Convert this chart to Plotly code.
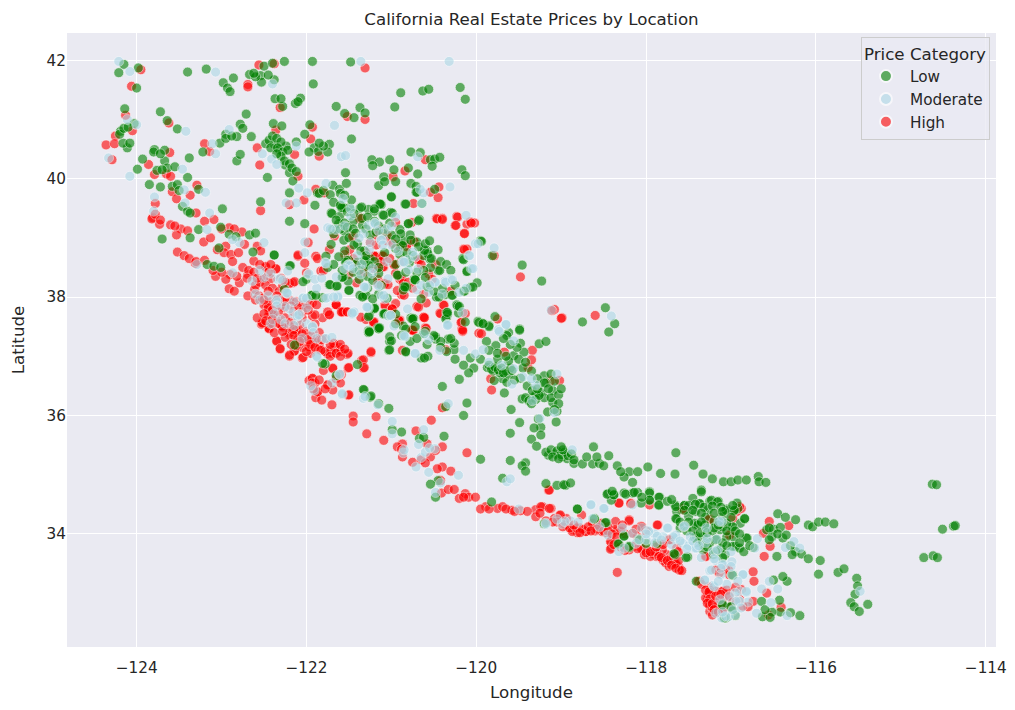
import plotly.graph_objects as go

low_points = [
(-124.21,41.79),(-124.15,41.93),(-123.98,41.87),(-124.0,41.53),(-123.40,41.80),(-123.18,41.85),(-122.98,41.62),(-122.93,41.53),(-122.90,41.47),(-122.86,41.70),
(-122.67,41.76),(-122.54,41.74),(-122.53,41.63),(-122.50,41.9),(-122.40,41.95),(-122.26,41.98),(-121.93,41.98),(-121.92,41.6),(-121.48,41.97),(-122.38,41.67),
(-122.37,41.35),(-122.28,41.22),(-122.13,41.27),(-122.07,41.36),(-121.65,41.22),(-121.55,41.1),(-121.44,41.03),(-121.37,41.2),(-121.31,41.11),(-124.14,41.18),
(-123.72,41.13),(-123.64,40.98),(-123.52,40.84),(-124.19,40.8),(-124.03,40.93),(-124.11,40.52),(-124.16,40.6),(-123.79,40.49),(-123.67,40.48),(-123.93,40.33),
(-123.67,40.3),(-123.99,40.16),(-123.76,40.14),(-123.64,40.18),(-123.4,40.02),(-123.38,40.35),(-123.22,40.45),(-123.02,40.6),(-122.95,40.75),(-122.82,40.71),
(-122.78,40.92),(-122.71,41.09),(-122.65,40.71),(-122.82,40.3),(-122.78,40.41),(-122.46,40.02),(-122.39,40.93),(-122.29,40.89),(-122.48,40.59),(-122.38,40.58),
(-122.32,40.49),(-122.24,40.55),(-122.25,40.23),(-122.2,40.1),(-122.16,39.96),(-122.2,39.76),(-122.02,40.75),(-121.96,40.91),(-121.91,40.52),(-121.86,40.46),
(-121.73,40.58),(-121.75,40.45),(-121.47,40.67),(-121.54,40.1),(-121.23,40.32),(-121.14,40.28),(-121.22,40.22),(-121.15,39.88),(-121.09,40.03),(-121.69,39.89),
(-121.61,39.82),(-121.53,39.92),(-121.87,39.76),(-122.54,39.61),(-122.2,39.28),(-122.02,39.24),(-122.99,39.49),(-123.46,39.53),(-123.4,39.45),(-123.37,39.42),
(-123.58,39.87),(-123.72,39.86),(-123.27,39.82),(-123.01,39.18),(-123.27,39.14),(-122.67,39.05),(-122.6,39.08),(-122.91,39.06),(-122.83,39.02),(-123.7,38.98),
(-123.37,39.0),(-123.03,38.83),(-122.63,38.76),(-122.38,38.71),(-123.17,38.55),(-123.09,38.52),(-123.01,38.5),(-122.2,38.53),(-121.71,38.89),(-121.77,38.69),
(-122.0,38.3),(-121.73,38.21),(-121.65,38.18),(-121.5,38.12),(-121.93,38.03),(-121.81,37.99),(-121.57,38.35),(-121.51,38.27),(-121.33,38.02),(-121.2,37.82),
(-121.27,37.43),(-121.16,37.48),(-121.59,39.51),(-121.49,39.51),(-121.37,39.5),(-121.27,39.48),(-121.2,39.45),(-121.12,39.56),(-121.1,39.39),(-121.71,39.42),
(-121.61,39.36),(-121.69,39.14),(-121.55,39.11),(-121.45,39.28),(-121.4,38.9),(-121.32,38.78),(-121.25,38.65),(-121.5,38.62),(-121.42,38.55),(-121.3,38.5),
(-121.2,38.6),(-121.08,38.75),(-121.15,38.4),(-121.38,38.3),(-121.28,38.15),(-121.15,38.05),(-121.05,37.98),(-120.89,41.45),(-120.63,41.48),(-120.56,41.51),
(-120.19,41.54),(-120.13,41.34),(-120.96,41.21),(-120.77,40.45),(-120.66,40.44),(-120.54,40.32),(-120.49,40.33),(-120.43,40.36),(-120.52,40.21),(-120.17,40.15),
(-120.13,40.05),(-121.02,40.32),(-120.97,40.15),(-120.8,40.18),(-120.69,40.08),(-120.95,39.95),(-121.08,39.95),(-120.77,39.92),(-120.71,39.87),(-120.71,39.77),
(-120.49,39.82),(-121,39.7),(-121.14,39.57),(-120.84,39.57),(-120.64,39.58),(-121.01,39.43),(-120.67,39.31),(-120.8,39.24),(-120.9,39.14),(-121.02,39.25),
(-120.7,38.93),(-120.89,38.89),(-120.58,38.78),(-120.55,38.65),(-120.16,38.65),(-120.11,38.44),(-120.45,38.45),(-120.54,38.5),(-119.95,38.95),(-119.81,38.7),
(-119.46,38.54),(-119.23,38.27),(-120.73,38.3),(-120.58,38.18),(-120.85,38.18),(-119.99,38.24),(-120.15,38.1),(-120.07,38.16),(-120.47,38),(-120.37,38.04),
(-120.29,38.03),(-120.65,37.97),(-120.23,37.87),(-120.21,37.73),(-120.35,37.74),(-120.35,37.65),(-120.77,37.65),(-121.09,37.72),(-120.86,37.51),(-120.13,37.58),
(-119.98,37.59),(-119.93,37.56),(-119.85,37.52),(-119.78,37.67),(-119.49,37.46),(-119.62,37.4),(-118.48,37.82),(-118.37,37.55),(-118.75,37.58),(-118.44,37.41),
(-120.9,38.72),(-120.78,38.65),(-120.95,38.55),(-120.62,38.7),(-120.85,38.95),(-120.78,39.05),(-120.62,38.45),(-120.7,38.42),(-120.6,38.33),
(-121.27,37.4),(-121.15,37.46),(-121.02,37.25),(-121.03,37.1),(-120.83,37.07),(-120.65,36.97),(-120.57,37),(-120.48,37.29),(-120.33,37.29),(-120.26,37.11),
(-120.26,37.22),(-120.34,37.71),(-120.22,37.85),(-121.2,37.8),(-121.09,37.71),(-120.95,37.71),(-120.76,37.63),(-120.83,37.46),(-120.62,37.38),(-119.97,37.57),
(-119.85,37.5),(-119.88,37.25),(-119.77,37.18),(-119.64,37.35),(-119.48,37.22),(-119.49,37.44),(-119.44,37.07),(-119.56,37.01),(-119.26,37.21),(-119.18,37.25),
(-120.07,36.97),(-120.03,36.8),(-120.09,36.72),(-120.2,36.61),(-120.4,36.49),(-120.36,36.15),(-120.11,36.21),(-120.15,36),(-119.87,36.81),(-119.75,36.79),
(-119.69,36.62),(-119.79,36.59),(-119.64,36.56),(-119.48,36.63),(-119.67,36.38),(-119.46,36.28),(-119.59,36.1),(-119.34,36.3),(-119.24,36.39),(-119.2,36.67),
(-119.12,36.7),(-119.1,36.42),(-119.1,36.22),(-119.05,36.07),(-119.16,36.06),(-119.06,35.89),(-119.27,35.94),(-119.24,35.8),(-119.32,35.79),(-119.49,35.88),
(-119.24,35.67),(-119.6,35.7),(-119.35,35.6),(-119.29,35.48),(-119.42,35.2),(-119.46,35.15),(-119.42,35.06),(-119.6,35.24),(-119.95,35.26),(-119.69,34.94),
(-119.07,35.35),(-119.15,35.33),(-118.99,35.3),(-118.93,35.27),(-119.18,34.85),(-119.05,34.82),(-118.95,34.82),(-120.99,35.76),(-120.88,35.72),(-120.67,35.61),
(-120.38,35.65),(-120.62,35.63),(-120.45,34.9),(-120.54,34.84),(-120.48,34.62),(-119.82,34.54),(-119.2,34.17),(-121.15,36.2),(-121.03,36.12),(-121.25,36.31),
(-121.32,36.43),(-121.78,36.87),(-121.65,36.67),(-121.4,36.86),(-119.8,36.75),(-119.72,36.72),(-119.62,36.7),(-119.55,36.6),(-119.4,36.5),(-119.3,36.35),
(-119.2,36.3),(-119.12,36.3),(-119.03,36.35),
(-118.85,35.19),(-118.62,35.47),(-118.44,35.32),(-118.63,35.18),(-118.55,35.19),(-118.34,35.15),(-118.2,35.05),(-117.98,35.13),(-117.83,35.02),(-117.66,35.01),
(-117.65,35.37),(-117.44,35.16),(-117.33,35.01),(-117.22,34.93),(-117.09,34.88),(-117,34.88),(-116.92,34.91),(-116.82,34.91),(-116.68,34.97),(-116.67,34.88),
(-116.59,34.87),(-118.97,34.83),(-118.89,34.86),(-118.26,34.96),(-118.16,34.87),(-118.45,34.68),(-118.38,34.66),(-118.41,34.57),(-118.26,34.69),(-118.16,34.69),
(-118.1,34.7),(-117.96,34.71),(-117.96,34.57),(-117.84,34.62),(-117.85,34.48),(-117.66,34.49),(-117.64,34.38),(-117.64,34.25),(-117.55,34.48),(-117.45,34.6),
(-117.35,34.74),(-117.37,34.51),(-117.25,34.55),(-117.15,34.55),(-117.27,34.41),(-117.41,34.15),(-117.31,34.15),(-117.13,34.07),(-116.99,34.12),(-116.89,34.18),
(-116.84,34.25),(-116.92,34.43),(-117.05,34.42),(-116.93,34.52),(-116.97,34.39),(-117.43,33.94),(-117.33,33.95),(-117.17,33.91),(-116.97,33.95),(-116.95,33.79),
(-117.21,33.65),(-117.33,33.73),(-117.07,33.65),(-117.51,33.61),(-116.81,33.93),(-116.74,33.77),(-116.45,34.34),(-116.36,34.28),(-116.24,34.24),(-116.58,34.07),
(-116.5,34.08),(-116.42,34.11),(-116.52,33.95),(-116.39,33.93),(-116.24,33.7),(-116.17,33.66),(-116.46,33.62),(-116.09,33.58),(-115.95,33.55),(-116.09,34.15),
(-116.04,34.12),(-115.97,34.2),(-115.89,34.2),(-115.79,34.17),(-115.97,33.32),(-115.74,33.35),(-115.67,33.41),(-115.52,33.25),(-115.51,33.12),(-115.54,32.98),
(-115.59,32.84),(-115.55,32.77),(-115.49,32.69),(-115.39,32.81),(-116.34,33.2),(-116.5,33.22),(-116.39,33.28),(-116.19,32.62),(-116.3,32.67),(-116.42,32.68),
(-116.52,32.68),(-116.63,32.6),(-116.54,32.59),(-116.64,32.86),(-116.43,32.88),(-117.06,32.58),(-117.1,32.81),(-117.01,32.77),(-116.99,33.31),(-118.61,34.26),
(-118.47,34.19),(-118.81,34.42),(-118.26,33.97),(-118.08,33.91),(-118.32,33.83),(-118.2,33.77),(-118,33.84),(-117.66,33.65),(-117.41,33.2),(-114.63,34.84),
(-114.58,34.83),(-114.51,34.08),(-114.38,34.13),(-114.36,34.14),(-114.73,33.6),(-114.62,33.63),(-114.57,33.6),(-117.5,34.3),(-117.42,34.38),(-117.3,34.28),
(-117.2,34.22),(-117.1,34.3),(-117.6,34.1),(-117.52,34.05),(-117.22,34.05),(-117.05,33.95),(-117.25,33.85),(-117.12,33.75),
(-122.38,38.71),(-122.19,38.53),(-122.04,38.26),(-122.26,38.13),(-121.94,38.03),(-121.89,38.03),(-121.72,38.21),(-121.64,38.19),(-121.57,38.34),(-121.53,38.62),
(-121.3,38.6),(-121.37,38.03),(-121.3,38.03),(-121.2,37.81),(-121.08,37.72),(-121.26,37.69),(-121.26,37.42),(-121.15,37.47),(-121.02,37.33),(-121,37.26),
(-121.02,37.11),(-120.83,37.08),(-120.74,37.64),(-120.82,38.17),(-120.92,38.37),(-120.72,38.29),(-120.86,38.12),(-121.81,36.88),(-121.24,36.33),(-121.33,36.44),
(-122.14,37.19),(-120.61,36.97),(-121.47,39.64),(-121.13,39.57),(-121,39.69),(-120.83,39.57),(-120.7,39.77),(-121.56,39.51),(-121.35,39.52),(-121.2,39.49),
(-121.09,39.38),(-120.99,39.42),(-120.68,39.29),(-120.8,39.24),(-121.7,39.41),(-121.62,39.24),(-121.68,39.07),(-121.56,38.96),(-121.54,38.59),(-121.4,38.59),
(-121.26,38.53),(-121.58,38.33),(-121.5,38.11),(-121.34,38),(-121.22,37.97),(-120.93,38.37),(-120.83,38.42),(-120.72,38.29),(-120.84,38.17),(-120.57,38.73),
(-120.53,38.65),(-120.43,38.45),(-120.57,38.17),(-120.44,38),(-120.28,38.03),(-120.14,38.1),(-120.04,38.17),(-119.94,38.94),(-120.15,38.63),(-120.11,38.43),
(-121.26,37.41),(-121.14,37.48),(-121.03,37.69),(-121.27,37.67),(-120.2,37.84),(-120.36,37.63),(-120.34,37.74),(-119.92,37.55),(-120.48,37.33),(-120.75,37.63),
(-121.34,39.21),(-120.89,39.07),(-120.87,38.87),(-120.77,38.96),(-120.61,38.79),(-121.32,38.62),(-121.15,38.5),(-120.79,38.58),(-121.58,39.51),(-121.52,39.44),
(-121.44,39.41),(-121.35,39.33),(-121.28,39.35),(-121.2,39.28),(-121.15,39.2),(-121.08,39.15),(-121.0,39.05),(-120.95,38.98),(-121.5,39.0),(-121.44,38.88),
(-121.36,38.78),(-121.3,38.7),(-121.55,38.78),(-121.62,38.68),
(-118.46,34.67),(-118.38,34.66),(-118.24,34.67),(-118.14,34.7),(-117.96,34.69),(-117.85,34.62),(-117.96,34.57),(-117.85,34.49),(-118.06,34.52),(-117.65,34.46),
(-117.55,34.48),(-117.37,34.51),(-117.23,34.57),(-117.16,34.54),(-117.35,34.71),(-117.65,34.26),(-117.43,34.18),(-117.31,34.15),(-117.06,34.4),(-116.96,34.4),
(-116.84,34.26),(-116.98,34.12),(-116.98,33.79),(-116.9,33.76),(-116.82,33.93),(-117.18,33.9),(-117.33,33.81),(-117.41,33.96),(-117.18,33.7),(-117.53,33.6),
(-118.48,34.19),(-118.61,34.25),(-118.81,34.42),(-118.26,33.96),(-118.09,33.9),(-118.33,33.83),(-118.2,33.79),(-117.87,33.84),(-117.67,33.67),(-117.1,32.8),
(-117.08,32.58),(-117,32.77),(-116.98,33.3),(-117.39,34.15),(-117.1,34.12),(-117.45,34.05),(-117.36,34.02),(-117.28,34.02),(-117.2,34.1),(-117.05,34.18),
(-117.0,34.28),(-117.5,34.48),(-117.42,34.5),(-117.32,34.45),(-117.22,34.47),(-117.12,34.45),
(-119.85,36.85),(-119.82,36.78),(-119.78,36.82),(-119.74,36.77),(-119.7,36.8),(-119.65,36.75),(-119.6,36.8),(-119.68,36.72),(-119.58,36.76),(-119.42,36.3),
(-119.38,36.25),(-119.3,36.27),(-119.26,36.34),(-119.35,36.2),(-119.18,35.38),(-119.12,35.42),(-119.05,35.4),(-119,35.34),(-118.96,35.38),(-118.92,35.32),
(-119.1,35.3),(-119.03,35.27),(-118.98,35.42),(-119.0,35.47),(-119.34,36.42),(-119.28,36.45),(-119.08,36.58),(-119.18,36.55),(-119.75,36.95),(-119.5,36.95),
(-119.45,36.8),(-119.62,36.92),(-119.52,37.15),(-119.6,37.2),(-119.68,37.3),(-120.42,37.25),(-120.5,37.35),(-120.6,37.42),(-120.72,37.5),(-120.3,37.3),
(-122.44,40.65),(-122.4,40.72),(-122.35,40.68),(-122.3,40.62),(-122.42,40.52),(-122.34,40.52),(-122.28,40.45),(-122.22,40.48),(-122.3,40.38),(-122.26,40.3),
(-122.2,40.25),(-122.17,40.18),(-122.12,40.12),(-122.35,40.42),(-122.12,40.62),(-121.85,39.75),(-121.8,39.8),(-121.72,39.73),(-121.6,39.75),(-121.55,39.72),
(-121.68,39.6),(-121.6,39.55),(-121.9,39.55),(-121.65,39.3),(-121.55,39.25),(-121.6,39.15),(-121.52,39.18),(-121.45,39.15),(-121.42,39.08),(-121.3,39.15),
(-121.25,39.05),(-121.18,39.1),(-121.1,39.08),(-121.75,38.5),(-121.68,38.55),(-121.58,38.45),(-121.45,38.42),(-121.38,38.45),(-121.28,38.35),(-121.22,38.28),
(-121.12,38.2),(-120.95,38.82),(-120.82,38.75),(-120.75,38.7),(-120.68,38.85),(-120.6,38.9),(-120.55,38.95),(-120.45,38.8),(-120.42,38.6),(-120.35,38.55),
(-120.3,38.45),(-120.25,38.2),(-120.4,38.15),(-120.5,38.1),(-120.95,37.55),(-120.88,37.35),(-120.78,37.25),(-120.7,37.3),(-120.58,37.2),(-120.42,37.15),
(-120.35,37.08),(-120.25,36.95),(-120.15,36.85),(-119.95,36.95),(-119.85,37.1),(-119.75,37.05),(-119.65,37),(-119.42,36.9),(-119.35,36.75),(-119.28,36.62),
(-119.2,36.55),(-119.15,36.45),(-119.0,36.45),(-119.03,36.2),(-119.08,36.1),(-118.88,35.35),(-118.85,35.25),(-118.75,35.18),(-118.7,35.3),(-118.58,35.3),
(-118.5,35.15),(-118.3,35.05),(-118.1,35.05),(-118.4,34.72),(-118.05,34.62),(-117.75,34.55),(-117.7,34.58),(-117.55,34.4),(-117.45,34.4),(-117.35,34.35),
(-117.2,34.35),(-117.1,34.38),(-116.98,34.48),(-117.6,34.2),(-117.5,34.2),(-117.35,34.2),(-117.15,34.15),(-117.05,34.05),(-116.95,34.05),(-116.9,34.0),
(-117.4,33.85),(-117.28,33.78),(-117.1,33.85),(-117.05,33.8),(-117.1,33.6),(-116.9,33.85),(-116.85,33.7),(-116.78,33.8),(-116.55,34.1),(-116.45,34.0),
(-116.35,33.98),(-116.3,33.8),(-116.55,33.9),(-116.28,33.65),(-116.6,32.72),(-116.95,32.62),(-116.98,32.7),(-124.2,40.75),(-124.15,40.85),(-124.1,40.87),
(-124.08,40.6),(-123.8,40.45),(-123.72,40.42),(-123.7,40.15),(-123.55,40.2),(-123.85,39.9),(-123.52,39.9),(-123.5,39.8),(-122.1,41.3),(-122.3,41.35),
(-122.6,41.72),(-122.62,41.78),(-122.45,41.75),(-122.95,40.68),(-122.88,40.72),(-122.75,40.85),(-121.97,40.45),(-121.8,40.55),(-121.85,40.6),
]

moderate_points = [
(-124.21,41.98),(-124.08,41.81),(-123.07,41.8),(-122.4,41.6),(-121.36,41.98),(-121.67,40.9),(-123.42,40.8),(-124.11,41),(-124.0,40.91),(-122.91,40.83),
(-123.11,40.59),(-123.07,40.42),(-124.33,40.35),(-124.08,40.04),(-123.46,40.16),(-123.44,39.81),(-123.79,39.69),(-123.8,39.45),(-123.19,39.77),(-123.14,39.42),
(-123.43,39.59),(-123.17,39.14),(-122.5,38.92),(-122.02,38.93),(-122.02,38.75),(-121.59,40.37),(-121.54,40.39),(-122.52,40.42),(-122.41,40.33),(-122.35,40.24),
(-122.12,40.55),(-122.09,39.84),(-122.24,39.59),(-122.12,39.59),(-121.99,39.76),(-121.77,39.92),(-121.57,39.66),(-121.75,39.17),(-121.65,39.14),(-121.48,39.37),
(-121.27,39.21),(-121.2,39.25),(-121.12,38.97),(-122.79,38.92),(-122.87,38.97),(-122.34,37.96),(-122.24,38.07),(-122.34,38.3),(-122.5,38.33),(-122.64,38.27),
(-122.22,38.44),(-121.98,38.38),(-121.78,38.58),(-121.5,38.55),(-122.87,38.41),(-123.29,38.55),(-122.04,37.99),(-121.75,37.99),(-121.63,38.02),(-122.08,37.71),
(-122.16,37.72),(-121.27,37.82),(-121.31,38.16),(-121.14,38.18),(-121.45,37.73),(-121.93,37.51),(-122.2,37.8),(-122.3,37.62),(-122.1,37.6),(-122.0,37.55),
(-120.32,41.98),(-120.69,40.37),(-120.31,39.86),(-120.62,39.76),(-120.66,39.82),(-120.64,39.58),(-120.12,39.38),(-120.01,38.9),(-119.79,38.83),(-120.09,38.7),
(-120.06,38.48),(-120.3,38.3),(-120.37,38.27),(-120.49,38.25),(-120.56,38.08),(-120.7,38.12),(-120.69,38.47),(-120.8,38.46),(-120.87,38.59),(-121.06,39.14),
(-121.1,38.98),(-120.8,38.63),(-120.34,37.54),(-119.74,37.45),(-119.65,37.53),(-119.12,37.78),(-118.41,37.68),(-121.04,37.68),(-120.81,37.8),(-120.97,37.51),
(-121.12,38.02),(-121.08,37.97),(-121.46,37.71),(-121.28,37.83),(-121.01,37.69),(-120.85,37.33),(-120.72,37.04),(-120.43,37.1),(-120.56,37.28),(-120.33,37.53),
(-120.15,37.1),(-120.01,37.04),(-119.92,37.11),(-119.65,37.54),(-119.73,37.42),(-119.56,37.26),(-119.56,36.79),(-119.58,36.53),(-119.3,36.51),(-119.05,36.7),
(-119.34,36.25),(-121.61,36.69),(-121.58,36.35),(-121.33,36.29),(-121.16,36.18),(-120.99,35.9),(-120.99,35.69),(-120.62,35.76),(-120.86,35.37),(-120.68,35.51),
(-120.33,36.2),(-120.49,35.44),(-120.71,35.13),(-120.65,35.29),(-120.56,35.04),(-120.42,34.86),(-120.21,34.99),(-120.48,34.7),(-119.64,34.88),(-119.6,34.93),
(-119.18,34.16),(-118.99,34.17),(-121.91,36.42),(-121.87,36.98),(-122.11,37.68),(-122.34,37.91),(-121.93,37.49),(-121.78,37.3),(-119.18,34.18),(-118.89,34.22),
(-118.65,34.5),(-118.49,34.43),(-118.16,34.49),(-117.98,34.06),(-117.74,34.1),(-117.56,34.12),(-118.12,33.84),(-118.45,33.98),(-118.32,33.7),(-117.57,33.84),
(-117.43,33.76),(-117.17,33.91),(-117.11,34.21),(-117.25,33.38),(-117.31,33.22),(-117.09,33.48),(-117.21,33.13),(-116.99,33.31),(-116.86,33.32),(-116.9,33.03),
(-116.82,33.01),(-116.91,32.87),(-116.64,33.07),(-116.55,33.2),(-116.45,33.07),(-116.53,32.84),(-116.7,32.66),(-117.03,32.6),(-117.11,32.58),(-116.95,32.63),
(-116.34,32.62),(-116.36,33.77),(-116.26,33.87),(-116.69,33.92),(-116.72,33.76),(-116.19,33.76),(-118.87,35.42),(-115.48,33.03),(-116.99,33.53),(-117.29,34.1),
(-117.8,33.95),(-117.9,34.0),(-117.65,33.92),(-117.5,33.8),(-117.35,33.6),(-117.18,33.55),(-117.05,33.15),(-116.95,33.0),(-116.8,32.85),(-118.05,34.1),
(-122.31,38.31),(-121.97,38.39),(-122.22,38.06),(-122.36,37.95),(-122.09,37.7),(-122.04,37.98),(-121.77,38.57),(-121.77,37.98),(-121.63,38.0),(-121.65,38.34),
(-121.51,38.54),(-121.3,38.17),(-121.23,38.4),(-121.09,38.03),(-120.86,38.6),(-120.72,38.68),(-120.84,37.33),(-120.72,37.05),(-121.61,36.7),(-121.88,37),
(-121.93,37.5),(-122.25,37.84),(-122.23,38.07),(-121.01,37.69),(-121.29,37.83),(-121.44,37.75),(-121.77,37.3),(-121.58,36.37),(-121.31,36.32),
(-121.48,39.49),(-121.72,39.15),(-121.19,39.24),(-121.33,39.07),(-121.12,38.96),(-121.26,38.8),(-121.49,38.53),(-121.36,38.39),(-120.85,38.59),(-120.75,38.76),
(-121.22,38.48),(-121.16,38.2),(-121.04,38.31),(-120.48,38.25),(-120.36,38.25),(-120.28,38.29),(-120.04,38.48),(-119.98,38.9),(-120.08,38.7),(-121.32,38.17),
(-121.68,38),(-121.46,37.73),(-120.34,37.52),(-120.85,37.35),(-120.61,37.38),(-120.16,37.74),(-121.0,38.88),(-120.92,38.78),(-121.4,38.7),(-121.05,38.6),
(-118.65,34.49),(-118.5,34.43),(-118.96,34.21),(-118.63,34.26),(-117.97,34.04),(-117.75,34.1),(-117.55,34.13),(-118.08,33.9),(-118.26,33.76),(-117.41,33.76),
(-117.21,33.7),(-117.23,33.39),(-117.31,33.22),(-117.12,33.31),(-116.86,33.31),(-117.2,33.11),(-116.9,32.86),(-117.02,32.94),(-116.82,33.03),(-116.94,32.86),
(-117.13,32.89),(-117.16,33.73),(-117.14,34.21),(-117.65,33.98),(-117.87,33.96),(-118.16,34.01),(-117.1,33.48),(-117.06,32.61),(-117.18,32.66),(-118.0,33.9),
(-117.7,33.82),(-117.48,33.95),(-117.3,33.85),(-117.0,33.7),
(-122.55,38.45),(-122.42,38.4),(-122.28,38.28),(-122.45,38.02),(-122.35,37.85),(-122.15,37.92),(-122.0,37.82),(-122.38,37.72),(-122.25,37.55),(-122.15,37.52),
(-122.42,37.55),(-122.05,37.3),(-121.92,37.4),(-121.88,37.3),(-121.7,37.32),(-122.6,38.05),(-122.55,37.95),(-122.0,37.98),(-121.88,38.15),(-121.9,38.3),
(-121.82,38.32),(-121.55,38.48),(-121.45,38.48),(-121.35,38.55),(-121.1,38.88),(-121.25,38.92),(-121.15,39.12),(-121.38,39.0),(-121.55,39.2),(-121.0,39.2),
(-120.95,39.35),(-120.65,38.2),(-120.55,38.2),(-120.4,38.05),(-120.2,38.08),(-120.12,38.15),(-119.85,36.9),(-119.7,36.85),(-119.45,36.65),(-119.35,36.62),
(-119.08,36.05),(-119.25,35.95),(-117.9,33.85),(-117.82,33.9),(-117.68,33.95),(-117.6,33.88),(-117.52,33.75),(-117.45,33.88),(-117.38,33.8),(-117.28,33.92),
(-117.2,33.58),(-117.12,33.42),(-117.0,33.45),(-116.92,33.2),(-117.15,33.2),(-116.98,32.72),(-116.88,32.75),(-117.1,32.68),(-118.0,34.0),(-118.28,34.1),
(-118.55,34.12),(-118.8,34.2),(-119.05,34.25),(-119.5,34.42),(-120.6,35.38),(-120.55,35.45),(-120.85,35.42),(-121.95,36.5),(-121.7,36.55),
]

high_points = [
(-123.95,41.84),(-124.06,41.56),(-122.56,41.92),(-122.38,41.94),(-122.69,41.59),(-122.69,41.55),(-122.31,41.2),(-121.31,41.87),(-121.52,41.05),(-121.31,41),
(-124.13,41.07),(-124.05,40.81),(-124.25,40.72),(-124.36,40.57),(-124.26,40.59),(-124.29,40.32),(-123.62,40.94),(-123.2,40.59),(-123.14,40.46),(-122.58,40.52),
(-122.55,40.23),(-122.36,40.82),(-121.95,40.67),(-121.93,40.87),(-121.85,40.38),(-122.14,40.41),(-123.86,40.24),(-123.79,40.07),(-123.61,40.44),(-123.65,40.08),
(-123.6,40.04),(-123.29,39.89),(-123.58,39.78),(-123.53,39.66),(-123.37,39.72),(-123.78,39.58),(-123.81,39.34),(-123.73,39.23),(-123.6,39.22),(-123.48,39.15),
(-123.53,39.05),(-123.3,39.42),(-123.09,39.31),(-123.21,38.93),(-123.13,39),(-122.91,39.17),(-122.76,39.1),(-122.54,39.46),(-122.03,39.64),(-122.2,39.56),
(-121.91,39.15),(-121.98,38.92),(-121.89,39.82),(-121.79,39.76),(-122.1,40.04),(-123.52,38.76),(-123.44,38.7),(-123.31,38.57),(-123.05,38.8),(-122.95,38.86),
(-122.97,38.75),(-122.89,38.72),(-122.73,38.89),(-122.58,38.86),(-122.54,38.78),(-122.87,38.6),(-122.62,38.61),(-122.48,38.52),(-122.36,38.47),(-123.07,38.35),
(-122.91,38.14),(-122.85,38.1),(-122.79,38.24),(-122.69,38.38),(-122.61,38.13),(-122.69,38.02),(-122.56,38.02),(-122.44,37.76),(-122.52,37.57),(-122.44,37.48),
(-122.28,37.51),(-122.26,37.82),(-122.02,37.88),(-121.93,37.9),(-121.93,37.68),(-121.81,37.65),(-121.73,37.71),(-121.57,37.76),(-122.16,38.24),(-122.1,38.69),
(-121.89,38.69),(-121.83,38.44),(-122,38.41),(-121.73,38.8),(-121.67,39.03),(-121.45,39.03),(-121.37,39.34),(-121.14,39.14),(-121.08,39.06),(-121.49,38.8),
(-121.45,38.58),(-121.2,38.69),(-121.16,38.52),(-121.16,38.3),(-121.41,38.24),(-121.65,37.88),(-121.2,37.58),(-121.3,37.62),
(-120.84,40.13),(-120.98,40.03),(-120.6,40.32),(-120.44,39.86),(-120.54,39.77),(-120.45,39.68),(-120.74,39.58),(-120.47,39.33),(-120.4,39.33),(-120.23,39.36),
(-120.25,39.21),(-120.11,39.23),(-120.07,39.27),(-120.02,39.25),(-120.14,39.08),(-120.15,38.81),(-120.11,38.81),(-119.79,38.7),(-119.48,38.34),(-119.08,37.79),
(-118.99,37.65),(-118.6,37.69),(-120.76,39.26),(-121.07,39.06),(-120.82,38.87),(-120.74,38.95),(-121.11,38.7),(-120.97,38.55),(-121.09,38.51),(-120.69,38.63),
(-121.09,38.23),(-120.9,38.3),(-120.88,38.04),(-120.7,37.84),(-120.59,37.9),(-121.08,37.86),(-121,37.8),(-120.62,37.66),(-120.43,37.73),(-120.39,37.87),
(-120.92,37.62),(-120.17,37.58),(-120.17,37.46),(-120.6,37.48),(-120.76,37.45),
(-122.44,37.46),(-122.53,37.54),(-122.28,37.49),(-122.2,37.36),(-122.09,37.4),(-122.35,37.25),(-122.31,37.12),(-122.2,37),(-122.15,37.08),(-122.05,36.97),
(-121.97,37.15),(-121.92,37.25),(-122.03,37.29),(-121.79,37.29),(-121.67,37.15),(-121.62,37.1),(-121.52,37.03),(-121.75,37.04),(-121.93,36.62),(-121.97,36.59),
(-121.87,36.39),(-121.89,36.3),(-121.82,36.26),(-121.75,36.51),(-121.69,36.43),(-121.7,36.18),(-121.51,36.34),(-121.8,36.76),(-121.69,36.79),(-121.51,36.8),
(-121.35,36.93),(-121.33,36.8),(-121.24,37.06),(-121.45,35.99),(-121.45,35.89),(-121.18,35.98),(-121.29,35.69),(-121.09,35.58),(-120.87,35.52),(-120.93,35.47),
(-120.87,35.3),(-120.75,35.21),(-120.71,35.74),(-120.53,35.92),(-120.58,35.52),(-120.4,35.47),(-120.54,35.3),(-120.48,35.41),(-120.4,35.13),(-120.3,35.06),
(-120.41,34.69),(-120.33,34.75),(-120.26,34.75),(-120.2,34.6),(-120.13,34.68),(-120.09,34.62),(-120.01,34.62),(-120.11,35.37),(-119.89,34.46),(-119.75,34.43),
(-119.69,34.46),(-119.58,34.4),(-119.48,34.39),(-119.3,34.41),(-119.22,34.46),(-119.12,34.43),(-119.02,34.31),(-118.94,34.26),(-119.3,34.29),(-119.15,34.74),
(-120.4,36.13),(-119.83,36.62),(-119.82,36.43),(-119.12,36.59),(-119.02,36.59),(-119.39,36.81),(-119.34,37.1),(-119.35,36.94),(-119.67,37.07),(-119.97,37.39),
(-119.75,37.63),(-120.16,37.42),(-120.18,37.57),(-120.13,37.72),(-120.42,37.72),(-120.62,37.66),(-120.75,37.43),(-120.91,37.6),(-121.21,37.56),(-121.58,37.74),
(-121.65,37.87),(-121.07,37.85),(-120.99,37.8),(-120.87,37.1),(-120.36,37.11),(-119,37.64),(-119.11,37.77),
(-119.24,34.46),(-119.14,34.43),(-119.08,34.26),(-119.01,34.32),(-118.87,34.07),(-118.81,34.02),(-118.71,34.04),(-118.63,34.18),(-118.53,34.18),(-118.34,33.35),
(-118.32,34.52),(-118.18,34.52),(-118.36,34.07),(-118.41,33.87),(-118.41,33.76),(-118.2,34.24),(-118.06,34.13),(-117.86,34.15),(-117.96,34.49),(-117.84,33.84),
(-117.72,33.9),(-117.66,33.53),(-117.61,33.39),(-117.92,33.67),(-118.04,33.73),(-118.14,33.79),(-117.76,33.65),(-117.64,33.76),(-117.57,34.41),(-117.25,34.25),
(-117.01,33.99),(-117.29,33.62),(-117.17,33.39),(-117.03,33.39),(-116.74,33.36),(-116.73,33.2),(-116.55,34.21),(-116.32,34.14),(-116.61,33.62),(-116.54,33.79),
(-116.62,34.01),(-116.93,34.38),(-116.88,34.43),(-117.27,32.97),(-117.17,33.03),(-117.09,33.03),(-117.25,32.79),(-117.25,32.69),(-116.74,32.86),(-116.8,32.77),
(-116.58,33),(-116.41,32.76),(-116.56,32.63),(-117.37,33.2),(-117.27,33.11),(-119.14,34.74),(-118.95,34.15),(-118.78,34.1),(-118.6,34.05),(-118.48,34.02),
(-118.3,34.05),(-118.25,34.0),(-118.1,33.95),(-117.98,33.72),(-117.88,33.62),(-117.8,33.55),(-117.7,33.5),(-117.62,33.45),(-117.22,33.0),(-117.28,32.88),
(-117.2,32.85),(-117.15,32.72),(-122.4,37.7),(-122.35,37.6),(-122.2,37.5),(-122.1,37.3),(-122.05,37.15),(-121.95,37.05),(-121.85,37.2),(-121.7,37.05),
(-122.48,37.9),(-122.3,37.85),(-122.15,37.75),(-122.05,37.65),(-121.9,37.55),(-121.85,37.4),
(-122.48,38.51),(-122.36,38.48),(-122.5,38.31),(-122.42,38.31),(-122.2,38.23),(-122.14,38.26),(-122.44,37.78),(-122.5,37.87),(-122.04,37.87),(-121.96,37.87),
(-121.88,37.87),(-121.9,37.7),(-121.75,37.75),(-122.44,37.47),(-122.52,37.56),(-122.29,37.51),(-122.2,37.39),(-122.12,37.44),(-122.03,37.3),(-121.9,37.28),
(-121.97,37.16),(-122.14,37.09),(-122.04,36.98),(-122.2,37.02),(-122.35,37.26),(-122.31,37.13),(-121.67,37.16),(-121.61,37.15),(-121.71,37.11),(-121.59,37.08),
(-121.51,37.05),(-121.24,37.08),(-121.75,36.52),(-121.93,36.63),(-121.87,36.4),(-121.69,36.8),(-121.5,36.81),(-121.59,36.69),(-121.82,37.28),(-121.73,37.7),
(-121.57,37.75),(-121.52,37.75),(-122.02,38.57),(-121.87,38.65),(-121.8,38.45),(-122.1,38.71),(-121.43,38.6),(-121.2,38.7),(-121.1,38.7),(-121.2,38.48),
(-121.1,38.51),(-121.08,38.23),(-121.16,38.23),(-120.96,38.54),(-120.88,38.31),(-120.86,38.23),(-120.95,37.89),(-121.21,37.58),(-120.9,37.61),(-120.74,37.44),
(-121.33,36.94),(-121.32,36.81),(-121.5,36.35),(-122.58,37.65),(-122.4,37.55),(-122.25,37.65),(-122.18,37.58),(-122.08,37.52),(-122.0,37.42),(-121.95,37.35),
(-122.45,37.68),(-122.38,37.4),(-122.25,37.32),(-122.12,37.18),(-122.0,37.08),(-121.86,37.12),(-121.78,37.08),(-121.72,37.0),(-121.65,37.05),(-121.6,37.0),
(-122.6,37.95),(-122.52,37.98),(-122.42,37.92),(-122.32,37.95),(-122.2,37.95),(-122.12,37.92),(-122.45,37.82),(-122.33,37.75),
(-121.37,39.32),(-120.95,39.26),(-121.46,39.02),(-121.05,39.04),(-121.17,39.04),(-120.73,38.93),(-120.82,38.85),(-121.2,38.69),(-121.1,38.69),(-121.44,38.59),
(-120.97,38.55),(-121.17,38.48),(-121.08,38.22),(-121.04,38.21),(-120.93,38.11),(-120.85,38.03),(-120.67,38.63),(-120.56,38.39),(-121.65,37.87),(-121.59,37.75),
(-121.52,37.75),(-121.36,37.66),(-120.99,37.8),(-120.91,37.6),(-120.75,37.44),(-120.68,37.83),(-120.61,37.65),(-120.38,37.86),(-120.59,37.47),(-120.46,39.32),
(-120.4,39.31),(-120.22,39.35),(-120.24,39.21),(-120.06,39.25),(-120.14,39.07),(-120.14,38.8),(-120.16,37.44),(-119.94,37.38),
(-118.87,34.04),(-118.71,34.04),(-118.63,34.18),(-118.36,34.21),(-118.2,34.22),(-118.32,34.52),(-118.18,34.51),(-118.05,34.12),(-117.87,34.15),(-118.37,34.07),
(-118.42,33.87),(-118.42,33.74),(-118.2,33.73),(-117.93,33.67),(-117.81,33.73),(-117.73,33.9),(-117.67,33.53),(-117.61,33.39),(-118.06,33.76),(-117.26,34.24),
(-117.02,33.98),(-117.3,33.62),(-117.39,33.2),(-117.27,32.97),(-117.18,33.03),(-117.1,33.03),(-117.25,32.79),(-117.22,32.63),(-117.06,33.4),(-116.88,33.06),
(-116.86,32.78),(-117.18,33.39),(-116.98,34.26),(-116.9,34.46),(-117.57,34.43),(-118.76,34.32),(-118.52,34.04),(-118.57,34.15),(-118.42,34.01),(-118.3,34.04),
(-118.16,34.01),(-117.87,33.67),(-117.77,33.51),(-117.73,33.45),(-117.65,33.49),(-117.14,33.34),(-117.02,33.31),(-119.05,34.2),(-118.98,34.12),(-118.9,34.1),
(-118.82,34.1),(-118.75,34.08),(-118.68,34.12),(-118.58,34.08),(-118.45,34.12),(-118.28,34.15),(-118.12,34.08),(-118.0,34.05),(-118.02,33.65),(-117.95,33.62),
(-117.9,33.7),(-117.72,33.58),(-117.68,33.62),(-117.62,33.55),(-117.25,33.05),(-117.3,32.92),(-117.22,32.75),(-117.15,32.8),(-117.1,32.9),(-117.05,33.05),
(-116.95,33.1),
(-122.6,38.2),(-122.55,38.25),(-122.48,38.2),(-122.4,38.15),(-122.32,38.1),(-122.28,38.2),(-122.45,38.1),(-122.35,38.02),(-122.5,37.95),(-122.28,37.92),
(-122.25,37.98),(-122.18,37.85),(-122.1,37.82),(-122.05,37.75),(-121.98,37.78),(-122.4,37.78),(-122.5,37.72),(-122.48,37.6),(-122.4,37.62),(-122.32,37.55),
(-122.28,37.42),(-122.15,37.45),(-122.15,37.35),(-122.05,37.38),(-121.98,37.28),(-121.95,37.2),(-121.9,37.15),(-122.08,37.25),(-122.18,37.2),(-121.83,37.1),
(-121.68,37.22),(-121.72,37.2),(-121.6,37.2),(-121.55,37.12),(-122.75,38.5),(-122.68,38.45),(-122.62,38.42),(-122.7,38.32),(-122.58,38.32),(-122.45,38.42),
(-122.42,38.55),(-122.55,38.55),(-122.3,38.32),(-122.25,38.25),(-122.9,38.38),(-122.82,38.35),(-122.95,38.3),(-123.0,38.42),(-123.1,38.45),(-123.82,39.32),
(-123.78,39.4),(-123.72,39.3),(-123.55,39.2),(-123.4,39.12),(-123.2,39.28),(-123.0,39.15),(-122.85,39.15),(-123.38,38.65),(-123.3,38.6),(-123.2,38.62),
(-122.8,38.75),(-121.9,36.55),(-121.93,36.55),(-121.85,36.6),(-121.65,36.62),(-121.6,36.55),(-121.78,36.45),(-121.92,36.45),(-120.88,35.43),(-120.65,35.25),
(-120.6,35.2),(-120.46,35.1),(-120.42,34.9),(-120.15,34.62),(-119.95,34.42),(-119.85,34.42),(-119.65,34.42),(-119.55,34.38),(-119.4,34.38),(-119.25,34.35),
(-119.18,34.22),(-119.1,34.2),(-118.85,34.15),(-118.78,34.02),(-118.65,34.05),(-118.5,34.05),(-118.45,34.05),(-118.4,34.0),(-118.35,33.95),(-118.38,33.82),
(-118.3,33.78),(-118.25,33.72),(-118.1,33.75),(-118,33.68),(-117.95,33.7),(-117.85,33.62),(-117.82,33.6),(-117.75,33.55),(-117.7,33.47),(-117.65,33.42),
(-117.58,33.38),(-117.88,33.78),(-117.8,33.82),(-117.62,33.7),(-117.35,33.15),(-117.3,33.05),(-117.26,33.02),(-117.25,32.9),(-117.28,32.83),(-117.22,32.82),
(-117.2,32.72),(-117.15,32.68),(-117.1,32.72),(-117.05,32.75),(-117.18,32.95),(-117.12,32.98),(-117.02,32.95),(-116.98,32.85),(-116.9,32.9),(-121.25,38.92),
(-121.18,38.88),(-121.05,38.95),(-120.98,38.9),(-120.9,38.85),(-121.3,38.75),(-121.12,38.6),(-121.02,38.65),(-120.88,38.6),(-120.65,38.55),(-120.48,38.55),
(-121.45,38.65),(-121.55,38.72),(-121.5,38.38),(-121.32,38.42),(-120.95,38.4),(-120.8,38.25),(-120.75,38.15),(-120.62,38.05),(-120.52,38.3),(-120.3,38.1),
]

low_lon, low_lat = [p[0] for p in low_points], [p[1] for p in low_points]
moderate_lon, moderate_lat = [p[0] for p in moderate_points], [p[1] for p in moderate_points]
high_lon, high_lat = [p[0] for p in high_points], [p[1] for p in high_points]

fig = go.Figure()
series = [
    ("High", high_lon, high_lat, "red", 3),
    ("Low", low_lon, low_lat, "green", 1),
    ("Moderate", moderate_lon, moderate_lat, "lightblue", 2),
]
for name, lon, lat, color, rank in series:
    fig.add_trace(go.Scatter(
        x=lon, y=lat, mode="markers", name=name, legendrank=rank,
        marker=dict(color=color, size=10, opacity=0.6, line=dict(color="white", width=0.7)),
    ))

fig.update_layout(
    width=999, height=694,
    margin=dict(l=59, r=11, t=25, b=55),
    paper_bgcolor="white", plot_bgcolor="#EAEAF2",
    font=dict(family="DejaVu Sans", size=15.28, color="#262626"),
    title=dict(text="California Real Estate Prices by Location", x=0.5, xref="paper",
               xanchor="center", y=1, yref="paper", yanchor="bottom",
               pad=dict(b=8), font=dict(size=16.67, color="#262626")),
    legend=dict(title=dict(text="Price Category", font=dict(size=16.67), side="top"),
                x=0.9935, xanchor="right", y=0.9935, yanchor="top",
                bgcolor="rgba(234,234,242,0.8)", bordercolor="#CCCCCC", borderwidth=1,
                font=dict(size=15.28), itemsizing="constant", traceorder="normal",
                tracegroupgap=0, itemwidth=38),
    showlegend=True,
)
fig.update_xaxes(range=[-124.82, -113.88], tickvals=[-124, -122, -120, -118, -116, -114],
                 showgrid=True, gridcolor="white", gridwidth=1.4, zeroline=False, showline=False,
                 automargin=False, ticks="outside", ticklen=7, tickcolor="rgba(0,0,0,0)",
                 title=dict(text="Longitude", font=dict(size=16.67), standoff=11),
                 tickfont=dict(size=15.28))
fig.update_yaxes(range=[32.09, 42.46], tickvals=[34, 36, 38, 40, 42],
                 showgrid=True, gridcolor="white", gridwidth=1.4, zeroline=False, showline=False,
                 automargin=False, ticks="", 
                 title=dict(text="Latitude", font=dict(size=16.67), standoff=17),
                 tickfont=dict(size=15.28))

fig.write_html("out.html")
